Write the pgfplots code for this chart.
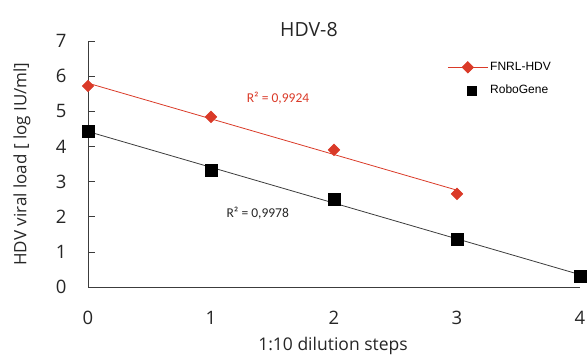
\documentclass[border=0pt]{standalone}
\usepackage{pgfplots}
\pgfplotsset{compat=1.18}
\usepackage{fontspec}
\setmainfont{Open Sans}
\newfontfamily\legfont{Liberation Sans}
\newfontfamily\rfont{Carlito}
\definecolor{myred}{RGB}{218,58,40}
\definecolor{mygray}{RGB}{60,60,60}
\pgfplotsset{
  redleg/.style={legend image code/.code={\draw[mark repeat=2,mark phase=2,##1,sharp plot] plot coordinates {(0pt,0pt) (20pt,0pt) (40pt,0pt)};}},
  blackleg/.style={legend image code/.code={\draw[##1, mark size=4.5pt] plot coordinates {(24pt,0pt)};}},
}
\begin{document}
\begin{tikzpicture}[x=1pt,y=1pt]
\begin{axis}[
  name=ax,
  at={(0,0)}, anchor=south west,
  scale only axis, width=492pt, height=246pt,
  xmin=0, xmax=4, ymin=0, ymax=7,
  axis x line=bottom, axis y line=left,
  axis line style={-, draw=mygray, line width=0.8pt},
  xtick={0,1,2,3,4}, ytick={0,1,...,7},
  xtick style={draw=none},
  ytick style={draw=mygray, line width=0.6pt},
  tick align=inside, major tick length=7pt,
  /pgf/number format/assume math mode=true,
  tick label style={font=\fontsize{18.5}{20}\selectfont, text=black!85},
  xticklabel style={yshift=-21pt},
  yticklabel style={xshift=-18pt},
  clip=false,
  legend style={draw=none, fill=none, at={(0.724,0.93)}, anchor=north west,
    font=\legfont\fontsize{12}{14}\selectfont, row sep=9pt,
    legend cell align=left},
]
% trend lines
\addplot[myred, line width=0.8pt, forget plot] coordinates {(0,5.80) (3,2.755)};
\addplot[mygray, line width=0.8pt, forget plot] coordinates {(0,4.424) (4,0.352)};
% data
\addplot[myred, line width=0.8pt, only marks, mark=square*, mark size=4pt,
  mark options={rotate=45, fill=myred, draw=myred}, redleg]
  coordinates {(0,5.72) (1,4.84) (2,3.90) (3,2.65)};
\addlegendentry{FNRL-HDV}
\addplot[black, only marks, mark=square*, mark size=6pt, blackleg]
  coordinates {(0,4.42) (1,3.33) (2,2.51) (3,1.37) (4,0.31)};
\addlegendentry{RoboGene}
\node[text=myred, font=\rfont\fontsize{13.5}{15}\selectfont] at (axis cs:1.545,5.38) {R² = 0,9924};
\node[text=black!85, font=\rfont\fontsize{13.5}{15}\selectfont] at (axis cs:1.38,2.11) {R² = 0,9978};
\node[font=\fontsize{19.5}{22}\selectfont, text=black!85] at (rel axis cs:0.449,1.045) {HDV-8};
\end{axis}
\node[font=\fontsize{17}{20}\selectfont, rotate=90, text=black!85] at (22-88,287-164) {HDV viral load [ log IU/ml]};
\node[font=\fontsize{17.5}{20}\selectfont, text=black!85] at (333-88,287-346) {1:10 dilution steps};
\pgfresetboundingbox
\path (-88,-67) rectangle (500,287);
\end{tikzpicture}
\end{document}
